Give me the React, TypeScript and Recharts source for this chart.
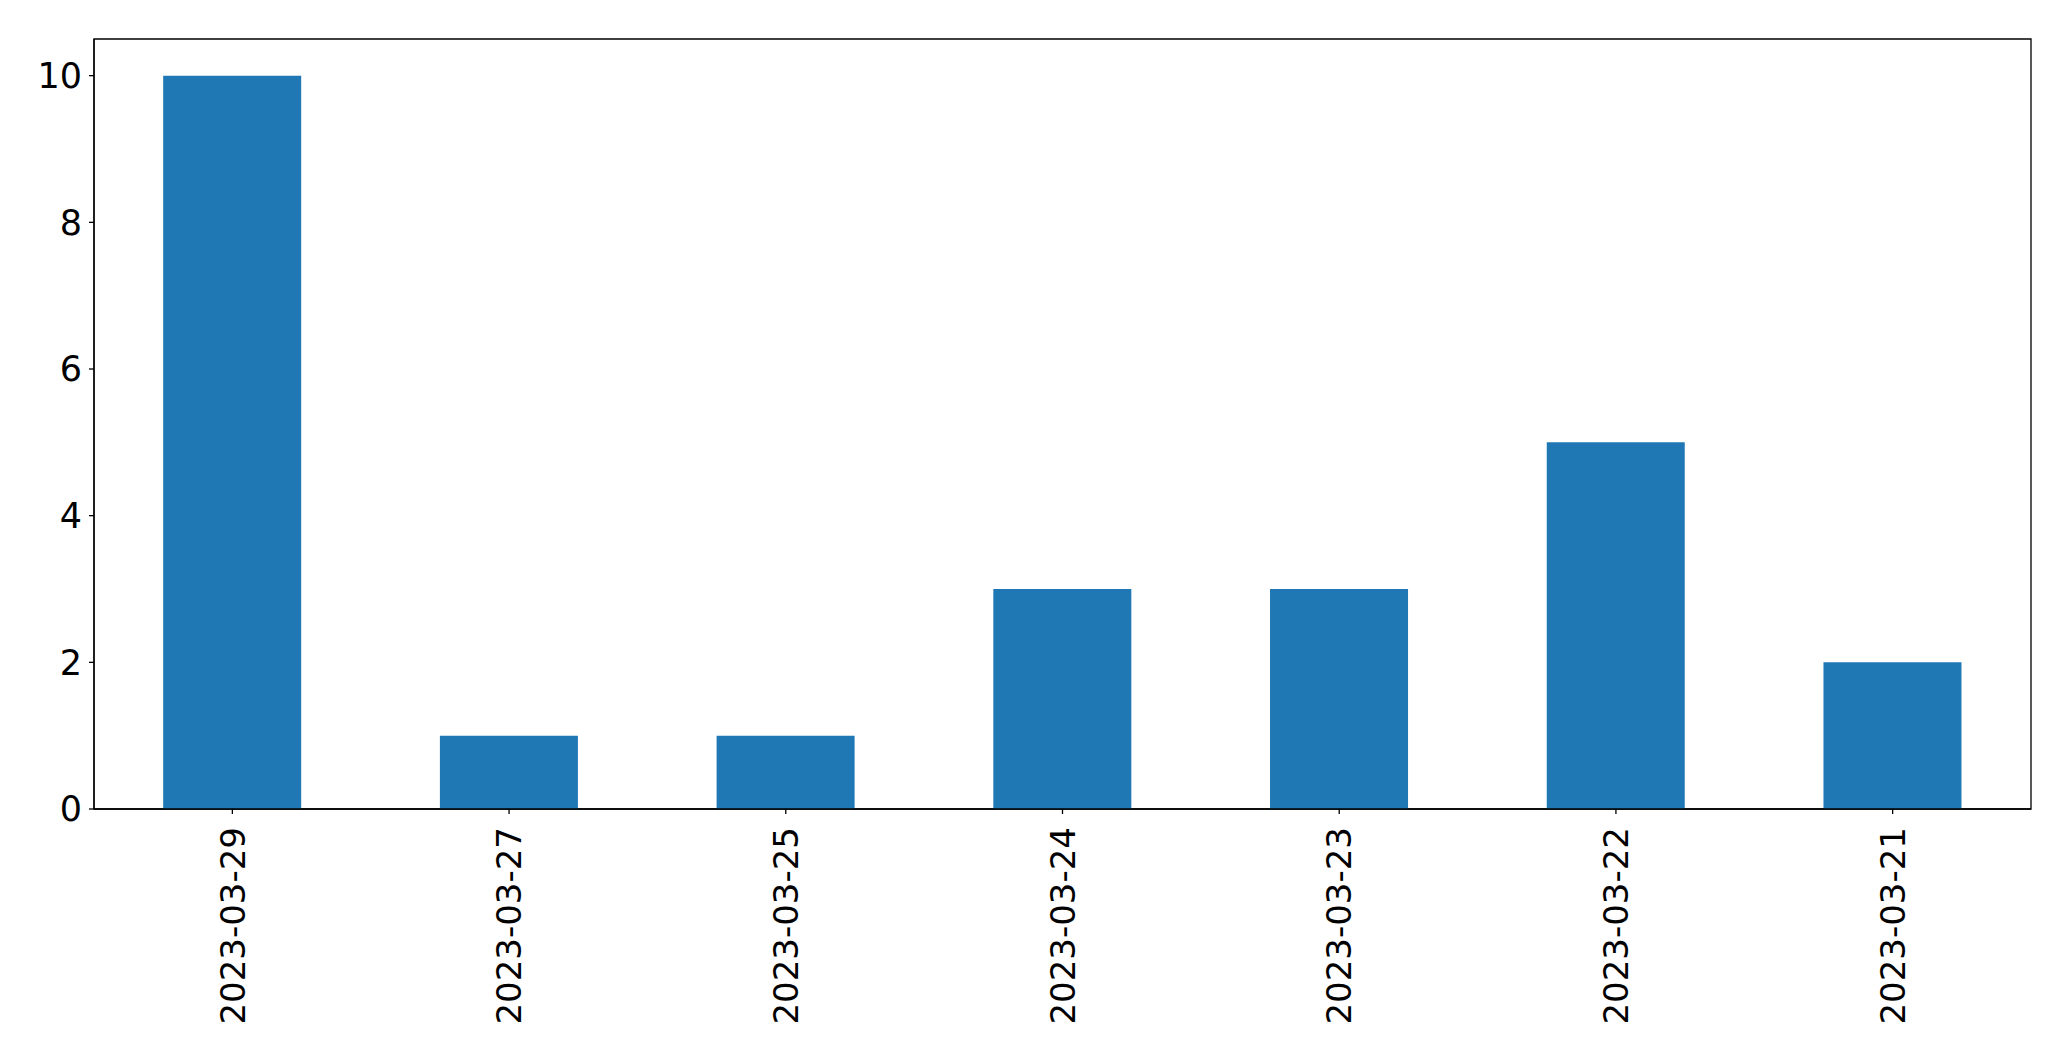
import React from "react";
import { BarChart, Bar, XAxis, YAxis, ReferenceArea } from "recharts";

const dates = [
  "2023-03-29",
  "2023-03-27",
  "2023-03-25",
  "2023-03-24",
  "2023-03-23",
  "2023-03-22",
  "2023-03-21",
];
const counts = [10, 1, 1, 3, 3, 5, 2];
const yTicks = [0, 2, 4, 6, 8, 10];

const data = dates.map((d, i) => ({ date: d, count: counts[i] }));

const font = "DejaVu Sans, sans-serif";

const DateTick = (props: any) => {
  const { x, y, payload } = props;
  return (
    <g transform={`translate(${x},${y})`}>
      <text
        transform="rotate(-90)"
        textAnchor="end"
        dy="0.36em"
        fontSize={34}
        fontFamily={font}
        fill="#000"
      >
        {payload.value}
      </text>
    </g>
  );
};

export default function App() {
  return (
    <div style={{ position: "absolute", left: 0, top: 0, background: "#fff" }}>
      <BarChart
        width={2071}
        height={1061}
        data={data}
        margin={{ top: 39, right: 40, bottom: 32, left: 0 }}
        barCategoryGap="25%"
      >
        <XAxis
          dataKey="date"
          height={220}
          interval={0}
          tickSize={5}
          tickMargin={13}
          tick={<DateTick />}
          axisLine={{ stroke: "#000", strokeWidth: 1.3 }}
          tickLine={{ stroke: "#000", strokeWidth: 1.3 }}
        />
        <YAxis
          width={94}
          domain={[0, 10.5]}
          ticks={yTicks}
          tickSize={5}
          tickMargin={7}
          tick={{ fontSize: 35, fontFamily: font, fill: "#000" }}
          axisLine={{ stroke: "#000", strokeWidth: 1.3 }}
          tickLine={{ stroke: "#000", strokeWidth: 1.3 }}
        />
        <Bar dataKey="count" fill="#1f77b4" isAnimationActive={false} />
        <ReferenceArea
          y1={0}
          y2={10.5}
          fill="none"
          stroke="#000"
          strokeWidth={1.3}
        />
      </BarChart>
    </div>
  );
}
